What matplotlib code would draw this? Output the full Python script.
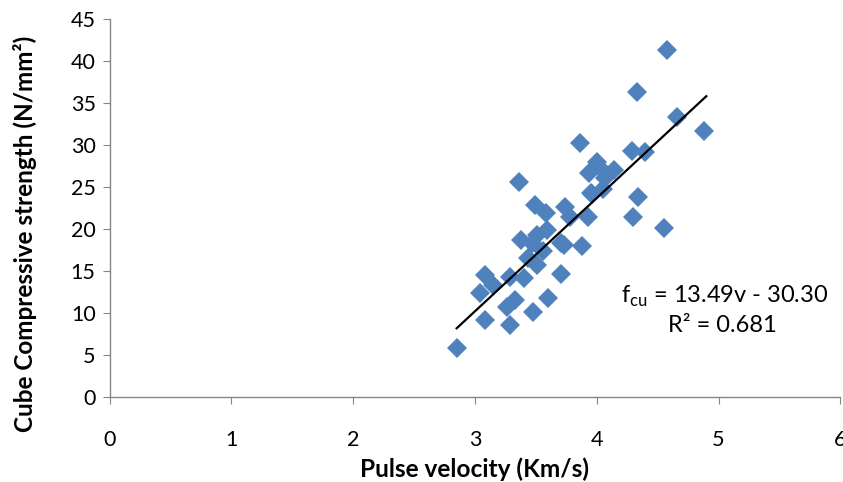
import matplotlib
matplotlib.use("Agg")
import matplotlib.pyplot as plt
import numpy as np

plt.rcParams['font.family'] = ['Lato', 'DejaVu Sans']
plt.rcParams['mathtext.fontset'] = 'custom'
plt.rcParams['mathtext.rm'] = 'Lato'

velocity = [2.85, 3.04, 3.08, 3.08, 3.15, 3.26, 3.29, 3.29, 3.33, 3.36,
            3.38, 3.40, 3.44, 3.47, 3.48, 3.49, 3.51, 3.51, 3.56, 3.58,
            3.59, 3.60, 3.71, 3.71, 3.73, 3.74, 3.78, 3.86, 3.88, 3.93,
            3.94, 3.95, 3.96, 4.00, 4.04, 4.05, 4.07, 4.14, 4.29, 4.30,
            4.33, 4.34, 4.40, 4.55, 4.58, 4.66, 4.88]
strength = [5.8, 12.3, 14.5, 9.1, 13.3, 10.7, 14.3, 8.5, 11.5, 25.6,
            18.7, 14.1, 16.5, 18.3, 10.1, 22.8, 19.3, 15.7, 17.3, 21.9,
            19.9, 11.7, 14.6, 18.3, 18.1, 22.6, 21.4, 30.2, 18.0, 21.4,
            26.6, 24.3, 24.2, 28.0, 27.0, 24.8, 26.0, 27.0, 29.3, 21.4,
            36.3, 23.8, 29.2, 20.1, 41.3, 33.3, 31.7]
slope, intercept = 13.49, -30.30
fit_range = [2.85, 4.90]

fig = plt.figure(figsize=(8.43, 4.82), dpi=100)
ax = fig.add_axes([0.1299, 0.177, 0.8669, 0.7836])

ax.plot(velocity, strength, linestyle='none', marker='D', markersize=10.2,
        color='#4F81BD', markeredgewidth=0, zorder=2)
xf = np.array(fit_range)
ax.plot(xf, slope * xf + intercept, color='black', linewidth=1.6, zorder=3)

ax.set_xlim(0, 6)
ax.set_ylim(0, 45)
ax.set_xticks(range(0, 7))
ax.set_yticks(range(0, 46, 5))
for s in ['top', 'right']:
    ax.spines[s].set_visible(False)
for s in ['left', 'bottom']:
    ax.spines[s].set_color('#868686')
    ax.spines[s].set_linewidth(1.0)
ax.tick_params(axis='both', direction='out', length=5, color='#868686',
               labelsize=15.5, labelcolor='black')
ax.tick_params(axis='x', pad=19)
ax.tick_params(axis='y', pad=5)

ax.set_xlabel('Pulse velocity (Km/s)', fontsize=17.6, fontweight='bold', labelpad=5)
ax.set_ylabel('Cube Compressive strength (N/mm²)', fontsize=17.5,
              fontweight='bold')
ax.yaxis.set_label_coords(-0.0992, 0.43)

ax.text(4.20, 11.9, r'f$_{\mathregular{cu}}$ = 13.49v - 30.30', fontsize=17,
        ha='left', va='center')
ax.text(4.585, 8.54, 'R² = 0.681', fontsize=17, ha='left', va='center')

fig.savefig('out.png', dpi=100)
